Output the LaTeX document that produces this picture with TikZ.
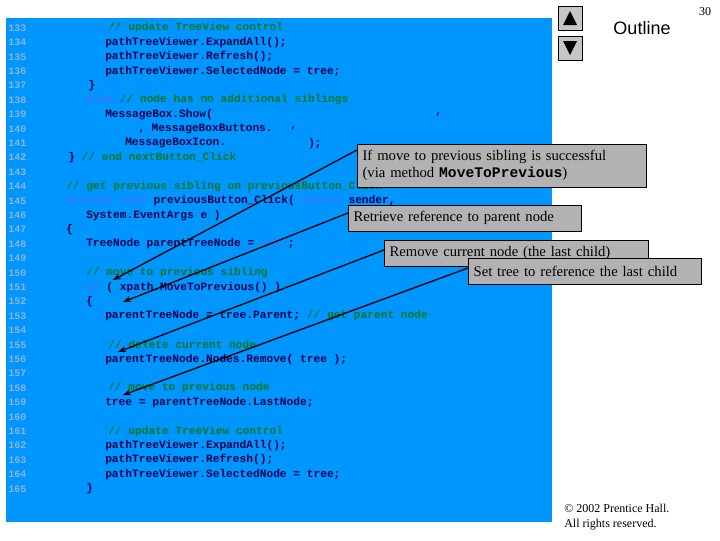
\documentclass[tikz,border=0pt]{standalone}
\usepackage{fontspec}
\setmainfont{Liberation Serif}
\setsansfont{Liberation Sans}
\setmonofont{Liberation Mono}
\usetikzlibrary{arrows.meta}
\definecolor{panel}{RGB}{0,150,255}
\definecolor{codec}{RGB}{0,0,80}
\definecolor{comm}{RGB}{0,120,40}
\definecolor{kw}{RGB}{60,120,255}
\definecolor{lnum}{RGB}{140,180,225}
\definecolor{callgray}{RGB}{178,178,178}
\tikzset{
  code/.style={anchor=west, inner sep=0pt, font=\fontsize{8.4}{9}\ttfamily\bfseries, text=codec},
  num/.style={anchor=west, inner sep=0pt, font=\fontsize{7.5}{9}\ttfamily\bfseries, text=lnum},
  callout/.style={draw=black, fill=callgray, anchor=north west, inner xsep=4pt, inner ysep=3pt, minimum height=19.5pt, align=left, font=\fontsize{11}{12.5}\selectfont},
  pointer/.style={-{Stealth[length=6pt]}, line width=1pt, black},
  btn/.style={draw=black, fill=gray!45, minimum width=18pt, minimum height=18pt, inner sep=0pt}
}
\newcommand{\cm}[1]{\textcolor{comm}{#1}}
\newcommand{\kw}[1]{\textcolor{kw}{#1}}
\begin{document}
\begin{tikzpicture}[x=0.75pt, y=-0.75pt]
\useasboundingbox (0,0) rectangle (720,540);
\fill[panel] (6,18) rectangle (552,522);

% line numbers
\foreach \n [count=\i from 0] in {133,...,165}
  \node[num] (n\n) at (8, 28+14.4*\i) {\n};

% code
\node[code] (c133) at (108, 28.0) {\cm{// update TreeView control}};
\node[code] (c134) at (105, 42.4) {pathTreeViewer.ExpandAll();};
\node[code] (c135) at (105, 56.8) {pathTreeViewer.Refresh();};
\node[code] (c136) at (105, 71.2) {pathTreeViewer.SelectedNode = tree;};
\node[code] (c137) at (88, 85.6) {\}};
\node[code] (c138) at (86, 100.0) {\kw{else} \cm{// node has no additional siblings}};
\node[code] (c139) at (105, 114.4) {MessageBox.Show(};
\node[code] (c139b) at (435, 114.4) {,};
\node[code] (c140) at (138, 128.8) {, MessageBoxButtons.};
\node[code] (c140b) at (290, 128.8) {,};
\node[code] (c141) at (125, 143.2) {MessageBoxIcon.};
\node[code] (c141b) at (308, 143.2) {);};
\node[code] (c142) at (68, 157.6) {\} \cm{// end nextButton\_Click}};
\node[code] (c144) at (66, 186.4) {\cm{// get previous sibling on previousButton\_Click}};
\node[code] (c145) at (66, 200.8) {\kw{private void} previousButton\_Click( \kw{object} sender,};
\node[code] (c146) at (86, 215.2) {System.EventArgs e )};
\node[code] (c147) at (66, 229.6) {\{};
\node[code] (c148) at (86, 244.0) {TreeNode parentTreeNode = \kw{null};};
\node[code] (c150) at (86, 272.8) {\cm{// move to previous sibling}};
\node[code] (c151) at (86, 287.2) {\kw{if} ( xpath.MoveToPrevious() )};
\node[code] (c152) at (86, 301.6) {\{};
\node[code] (c153) at (105, 316.0) {parentTreeNode = tree.Parent; \cm{// get parent node}};
\node[code] (c155) at (108, 344.8) {\cm{// delete current node}};
\node[code] (c156) at (105, 359.2) {parentTreeNode.Nodes.Remove( tree );};
\node[code] (c158) at (108, 388.0) {\cm{// move to previous node}};
\node[code] (c159) at (105, 402.4) {tree = parentTreeNode.LastNode;};
\node[code] (c161) at (108, 431.2) {\cm{// update TreeView control}};
\node[code] (c162) at (105, 445.6) {pathTreeViewer.ExpandAll();};
\node[code] (c163) at (105, 460.0) {pathTreeViewer.Refresh();};
\node[code] (c164) at (105, 474.4) {pathTreeViewer.SelectedNode = tree;};
\node[code] (c165) at (86, 488.8) {\}};

% header
\node[btn] (up) at (570,18) {};
\fill (563,25) -- (577,25) -- (570,11) -- cycle;
\node[btn] (down) at (570,48) {};
\fill (563,41) -- (577,41) -- (570,55) -- cycle;
\node[font=\fontsize{13.5}{15}\sffamily] (outline) at (642,28) {Outline};
\node[font=\fontsize{9}{10}\selectfont] (page) at (705,12) {30};
\node[anchor=west, align=left, inner sep=0pt, font=\fontsize{9}{11}\selectfont] (copy) at (564,517)
  {\textcopyright{} 2002 Prentice Hall.\\All rights reserved.};

% pointers
\coordinate (t1) at (113,280);
\coordinate (t2) at (123,302);
\coordinate (t3) at (118,352);
\coordinate (t4) at (123,395);
\draw[pointer] (357,150) -- (t1);
\draw[pointer] (348,213) -- (t2);
\draw[pointer] (384,250) -- (t3);
\draw[pointer] (468,268) -- (t4);

% callouts
\node[callout, text width=209pt, minimum height=32pt] (prev) at (357,144)
  {If move to previous sibling is successful\\(via method \texttt{\bfseries MoveToPrevious})};
\node[callout, text width=167pt] (parent) at (348,205) {Retrieve reference to parent node};
\node[callout, text width=190pt] (remove) at (384,240) {Remove current node (the last child)};
\node[callout, text width=167pt] (last) at (468,258) {Set tree to reference the last child};
\end{tikzpicture}
\end{document}
